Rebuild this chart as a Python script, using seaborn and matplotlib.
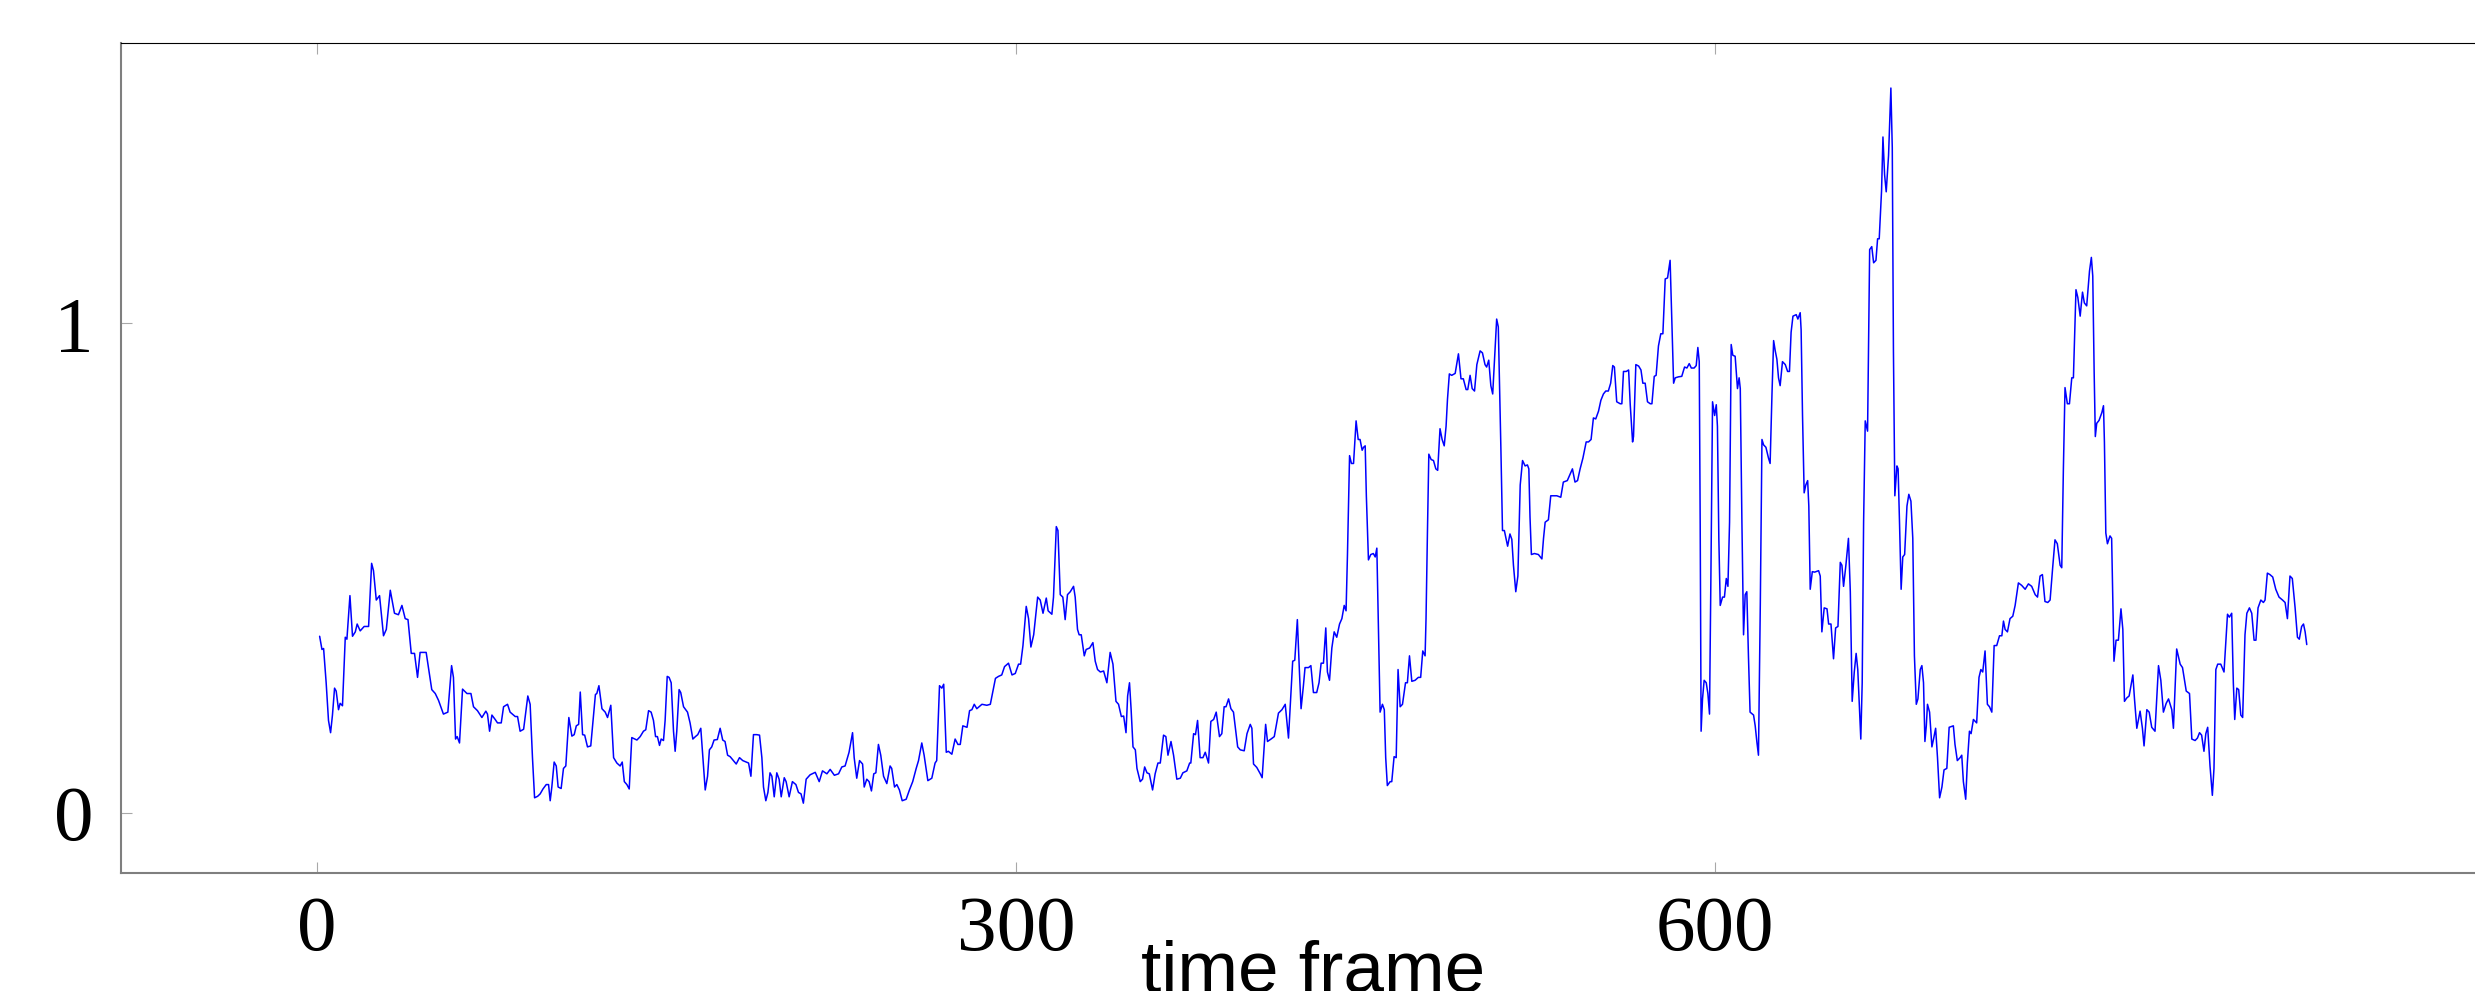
import matplotlib
matplotlib.use("Agg")
import matplotlib.pyplot as plt
import seaborn as sns
import pandas as pd

# ---- data (x = time frame, y = signal value) ----
x_frame = [
    1.3, 2.3, 3.0, 4.1, 5.1, 6.0, 6.8, 7.7, 8.4, 9.4, 10.1, 11.1, 12.3, 13.0, 14.3, 15.4, 16.6, 17.4, 18.7, 20.4,
    22.3, 23.6, 24.4, 25.6, 27.0, 28.7, 29.9, 31.6, 33.4, 35.1, 36.6, 38.0, 39.2, 40.6, 42.0, 43.3, 44.4, 47.0, 49.4, 50.9,
    52.3, 54.4, 56.3, 57.9, 58.7, 59.6, 60.3, 61.3, 62.6, 64.5, 66.2, 67.3, 69.0, 70.9, 72.6, 73.3, 74.2, 75.2, 76.6, 77.6,
    79.2, 80.2, 81.9, 83.0, 85.2, 86.2, 87.3, 88.8, 90.6, 91.6, 92.6, 93.5, 94.8, 95.9, 97.1, 98.5, 99.5, 100.2, 100.9, 101.9,
    102.8, 103.6, 104.9, 105.9, 106.9, 108.2, 109.5, 110.5, 111.4, 112.4, 113.1, 114.1, 115.0, 116.2, 117.6, 118.8, 119.6, 120.2, 121.1, 122.4,
    123.8, 124.8, 126.2, 127.4, 128.8, 130.2, 131.1, 132.0, 133.1, 134.1,
    135.2, 137.4, 138.8, 140.2, 141.2, 142.4, 143.5, 144.5, 145.4, 146.2, 147.1, 147.8, 148.8, 149.5, 150.4, 151.2, 152.1, 153.1, 153.8, 154.5,
    155.5, 156.2, 157.4, 159.1, 160.2, 161.4, 162.5, 163.5, 164.8, 165.7, 166.7, 167.7, 168.5, 169.5, 170.5, 171.9, 173.1, 174.2, 175.2, 176.3,
    177.4, 178.8, 180.0, 181.4, 182.8, 184.3, 185.3, 186.3, 187.4, 188.8, 190.0, 191.0, 191.7, 192.7, 193.6, 194.5, 195.3, 196.3, 197.4, 198.4,
    199.3, 200.6, 201.4, 202.7, 204.1, 205.6, 206.7, 207.8, 208.8, 210.0, 211.7, 213.9, 215.6, 217.0, 218.9, 220.3, 222.1, 223.9, 225.3, 226.7,
    228.4, 229.9, 230.6, 231.7, 232.9, 234.2, 234.9, 236.0, 237.0, 238.0, 239.0, 239.9, 241.0, 242.0, 243.2, 244.6, 246.0, 246.7, 247.9, 248.9,
    250.0, 251.2, 252.9, 254.3, 255.7, 257.2, 258.2, 259.6, 260.6, 262.2, 263.9, 265.3, 266.0, 267.2, 268.2, 269.0, 270.1, 271.0, 272.5, 273.9,
    275.1, 276.1,
    277.2, 279.0, 280.1, 281.1, 282.1, 283.2, 285.4, 287.5, 289.0, 290.1, 291.2, 292.5, 293.9, 295.1, 296.8, 298.3, 299.7, 301.1, 302.0, 303.0,
    304.4, 305.4, 306.4, 307.6, 309.3, 310.4, 311.6, 313.0, 313.8, 315.4, 316.1, 317.3, 318.0, 319.0, 320.1, 321.1, 322.1, 323.3, 324.7, 325.4,
    326.4, 327.1, 328.0, 329.3, 330.1, 331.6, 333.0, 334.0, 335.0, 336.2, 337.6, 339.0, 340.4, 341.6, 342.9, 344.0, 345.2, 346.2, 347.2, 347.9,
    348.7, 349.4, 350.2, 351.2, 351.9, 353.3, 354.3, 355.2, 356.2, 357.2, 358.6, 359.7, 360.9, 361.9, 363.3, 364.3, 365.2, 366.5, 367.6, 369.0,
    370.5, 371.6, 373.3, 374.5, 375.0, 376.2, 377.0, 377.9, 379.0, 380.2, 381.2, 382.6, 383.6, 384.8, 385.9, 387.3, 388.3, 389.3, 390.1, 391.2,
    392.2, 393.3, 395.1, 396.2, 397.9, 399.1, 400.5, 401.2, 401.9, 403.3, 404.8, 405.6, 407.1, 407.9, 409.4, 410.8, 412.6, 414.1, 415.5, 416.9,
    418.7, 419.6, 420.7, 421.6, 422.3, 423.3, 424.0, 425.5, 426.5, 427.6, 429.0, 430.0, 430.9, 431.9, 432.9, 433.6, 434.5, 435.5, 436.5, 437.6,
    438.8, 439.8, 440.8, 441.6, 442.2, 443.1, 443.9, 444.8, 445.9, 446.8, 447.6, 448.5, 449.1, 449.8, 450.3, 451.2, 452.2, 453.3, 454.1, 454.8,
    455.5, 456.2, 457.2, 458.0, 458.6, 459.3, 460.5, 461.2, 462.2, 463.1, 463.9, 464.8, 465.8, 467.1, 467.9, 468.8, 469.8, 471.2, 472.6, 473.6,
    474.5, 475.5, 475.9, 476.5, 477.1, 478.1, 479.1, 480.1, 480.9, 481.9, 482.8, 483.7, 484.5, 485.1, 485.9, 486.9, 488.4, 489.8, 490.9, 491.9,
    493.1, 493.8, 494.8, 495.7, 496.7, 497.7, 499.1, 500.1, 501.2, 501.9, 502.8, 503.7, 504.5, 505.5, 506.2, 506.9, 508.0, 508.7, 509.5, 510.2,
    510.9, 511.9, 512.7, 513.4, 514.4, 515.3, 516.3, 517.3, 518.4, 519.4, 520.0, 520.5, 521.1, 522.4, 524.1, 525.6, 526.3, 527.0, 528.4, 529.4,
    530.6, 532.0, 533.7, 534.8, 536.5, 537.7, 538.7, 539.8, 540.9, 542.0, 543.2, 544.6, 545.6, 546.7, 547.7, 548.7, 549.9, 550.9, 552.0, 553.0,
    554.1, 555.1, 556.0, 556.7, 557.7, 559.2,
    559.9, 560.6, 561.8, 562.8, 563.5, 564.5, 564.9, 565.9, 567.1, 568.1, 568.9, 569.9, 570.9, 572.1, 572.8, 573.8, 574.6, 575.6, 576.6, 577.5,
    578.5, 579.5, 580.6, 581.4, 582.1, 582.8, 584.2, 585.6, 586.8, 587.8, 588.8, 589.7, 590.9, 591.8, 592.5, 593.1, 593.5, 593.9, 594.5, 595.2,
    596.1, 596.8, 597.5, 598.1, 598.8, 599.7, 600.4, 600.9, 601.5, 602.1, 603.1, 603.9, 604.7, 605.4, 606.1, 606.8, 607.5, 608.5, 609.5, 610.2,
    610.7, 611.4, 612.1, 612.8, 613.5, 614.2, 614.9, 616.4, 617.1, 617.8, 618.5, 619.3, 620.0, 620.7, 621.7, 622.8, 623.5, 624.3, 625.0, 625.7,
    626.4, 627.1, 627.8, 628.8, 630.0, 631.0, 631.8, 632.5, 633.3, 634.7, 635.4, 636.4, 636.8, 637.4, 638.1, 638.8, 639.6, 640.1, 640.7, 641.6,
    642.6, 644.3, 645.0, 645.7, 646.7, 647.9, 648.6, 649.6, 650.7, 651.6, 652.6, 653.6, 654.3, 655.0, 656.0, 657.1, 657.9, 658.7, 659.6, 660.4,
    661.1, 662.4, 663.0, 663.6, 664.3, 665.3, 666.2, 667.1, 667.9, 668.9, 669.6, 670.3, 671.3, 671.9, 672.6, 673.3, 674.3, 675.3, 675.9, 676.4,
    677.0, 677.9, 678.4, 679.0, 679.7, 680.4, 681.2, 682.2, 683.0, 683.9, 684.7, 685.4, 686.2, 686.9, 687.9, 688.6, 689.3, 689.9, 690.5, 691.0,
    691.9, 692.9, 693.6, 694.5, 695.3, 696.2, 697.2, 698.1, 699.3, 700.3,
    702.1, 702.8, 703.8, 705.0, 705.7, 706.4, 707.4, 708.1, 709.0, 709.7, 710.7, 712.1, 713.1, 713.9, 714.7, 715.7, 716.7, 717.6, 718.6, 719.6,
    720.7, 721.9, 722.9, 723.6, 724.3, 725.3, 726.4, 727.6, 728.6, 730.0, 731.4, 732.9, 734.3, 735.7, 737.2, 738.2, 739.3, 740.3, 741.4, 742.6,
    743.6, 744.7, 745.7, 746.7, 747.9, 748.6, 749.3, 750.0, 751.0, 751.9, 752.9, 753.6, 754.7, 755.5, 756.5, 757.5, 758.3, 759.3, 760.5, 761.3,
    761.9, 762.5, 763.0, 763.6, 764.6, 765.8, 766.5, 766.9, 767.5, 768.2, 769.3, 770.0, 770.5, 771.0, 771.9, 772.9, 774.0, 774.8, 775.5, 776.5,
    777.5, 779.1, 779.8, 780.8, 782.2, 783.2, 783.9, 785.1, 786.1, 787.2, 788.6, 790.1, 791.1, 792.2, 793.4, 794.4, 795.8, 796.5, 797.9, 799.4,
    800.4, 802.0, 803.4, 804.4, 805.8, 806.8, 807.7, 808.6, 809.6, 810.4, 811.2, 812.2, 813.2, 813.9, 814.7, 815.5, 816.8, 818.2, 819.7, 820.5,
    821.5, 822.2, 822.8, 823.7, 824.5, 825.4, 826.2, 827.2, 828.0, 829.1, 830.1, 831.1, 831.9, 832.8, 834.0, 835.1, 835.8, 836.8, 837.9, 839.1,
    840.4, 841.8, 843.3, 844.4, 845.4, 846.5, 847.5, 848.7, 849.7, 850.5, 851.5, 852.3, 853.0, 853.7,
]

signal = [
    0.361, 0.334, 0.336, 0.266, 0.189, 0.164, 0.200, 0.255, 0.249, 0.211, 0.224, 0.219, 0.359, 0.355, 0.444, 0.361, 0.370, 0.386, 0.372, 0.381,
    0.381, 0.510, 0.495, 0.435, 0.444, 0.362, 0.375, 0.455, 0.408, 0.405, 0.424, 0.397, 0.395, 0.326, 0.326, 0.277, 0.328, 0.328, 0.252, 0.244,
    0.230, 0.202, 0.206, 0.301, 0.277, 0.151, 0.156, 0.143, 0.253, 0.244, 0.244, 0.217, 0.209, 0.195, 0.208, 0.202, 0.167, 0.200, 0.191, 0.184,
    0.184, 0.217, 0.222, 0.206, 0.197, 0.197, 0.167, 0.171, 0.239, 0.222, 0.113, 0.031, 0.034, 0.039, 0.049, 0.058, 0.058, 0.025, 0.053, 0.104,
    0.096, 0.053, 0.050, 0.091, 0.096, 0.195, 0.157, 0.160, 0.178, 0.181, 0.247, 0.160, 0.159, 0.135, 0.137, 0.200, 0.242, 0.244, 0.260, 0.213,
    0.206, 0.195, 0.220, 0.113, 0.102, 0.096, 0.104, 0.064, 0.058, 0.049,
    0.154, 0.149, 0.156, 0.167, 0.170, 0.209, 0.206, 0.189, 0.156, 0.156, 0.138, 0.151, 0.148, 0.189, 0.279, 0.277, 0.266, 0.167, 0.126, 0.167,
    0.252, 0.246, 0.217, 0.206, 0.184, 0.151, 0.156, 0.160, 0.173, 0.113, 0.047, 0.075, 0.129, 0.135, 0.149, 0.150, 0.173, 0.149, 0.146, 0.118,
    0.115, 0.107, 0.100, 0.113, 0.107, 0.104, 0.102, 0.075, 0.160, 0.160, 0.159, 0.113, 0.053, 0.025, 0.042, 0.082, 0.075, 0.033, 0.082, 0.069,
    0.033, 0.072, 0.064, 0.033, 0.064, 0.058, 0.042, 0.039, 0.020, 0.069, 0.078, 0.083, 0.064, 0.086, 0.080, 0.089, 0.077, 0.080, 0.094, 0.096,
    0.124, 0.164, 0.113, 0.071, 0.107, 0.100, 0.053, 0.069, 0.064, 0.045, 0.080, 0.082, 0.140, 0.118, 0.075, 0.060, 0.096, 0.091, 0.053, 0.058,
    0.047, 0.025, 0.028, 0.047, 0.064, 0.091, 0.107, 0.143, 0.118, 0.066, 0.071, 0.102, 0.107, 0.260, 0.255, 0.263, 0.124, 0.126, 0.120, 0.151,
    0.140, 0.140,
    0.178, 0.175, 0.209, 0.211, 0.222, 0.213, 0.222, 0.220, 0.222, 0.249, 0.275, 0.279, 0.282, 0.299, 0.306, 0.282, 0.285, 0.304, 0.304, 0.342,
    0.422, 0.397, 0.339, 0.364, 0.441, 0.435, 0.408, 0.439, 0.413, 0.406, 0.441, 0.585, 0.577, 0.446, 0.441, 0.395, 0.446, 0.452, 0.463, 0.441,
    0.375, 0.364, 0.364, 0.321, 0.334, 0.337, 0.348, 0.310, 0.293, 0.288, 0.290, 0.266, 0.328, 0.304, 0.228, 0.222, 0.197, 0.198, 0.164, 0.239,
    0.266, 0.211, 0.135, 0.129, 0.091, 0.064, 0.069, 0.094, 0.082, 0.080, 0.047, 0.080, 0.102, 0.102, 0.159, 0.156, 0.118, 0.146, 0.118, 0.069,
    0.071, 0.082, 0.086, 0.102, 0.102, 0.162, 0.160, 0.189, 0.113, 0.113, 0.124, 0.102, 0.187, 0.191, 0.206, 0.156, 0.162, 0.217, 0.217, 0.233,
    0.213, 0.206, 0.135, 0.129, 0.127, 0.162, 0.181, 0.173, 0.100, 0.093, 0.080, 0.072, 0.181, 0.146, 0.151, 0.156, 0.204, 0.211, 0.222, 0.153,
    0.310, 0.312, 0.395, 0.288, 0.213, 0.260, 0.297, 0.297, 0.301, 0.246, 0.246, 0.266, 0.306, 0.306, 0.378, 0.288, 0.271, 0.337, 0.370, 0.359,
    0.386, 0.397, 0.424, 0.413, 0.528, 0.730, 0.714, 0.714, 0.801, 0.763, 0.763, 0.741, 0.747, 0.750, 0.648, 0.517, 0.528, 0.530, 0.523, 0.541,
    0.375, 0.206, 0.222, 0.211, 0.113, 0.056, 0.064, 0.064, 0.115, 0.113, 0.293, 0.217, 0.222, 0.266, 0.266, 0.321, 0.269, 0.271, 0.277, 0.277,
    0.331, 0.321, 0.397, 0.572, 0.733, 0.722, 0.720, 0.703, 0.700, 0.785, 0.763, 0.750, 0.790, 0.845, 0.897, 0.894, 0.898, 0.938, 0.887, 0.887,
    0.865, 0.865, 0.894, 0.867, 0.862, 0.916, 0.944, 0.940, 0.916, 0.911, 0.925, 0.873, 0.856, 0.944, 1.009, 0.993, 0.747, 0.577, 0.577, 0.561,
    0.545, 0.570, 0.559, 0.506, 0.452, 0.484, 0.670, 0.720, 0.709, 0.711, 0.703, 0.605, 0.528, 0.530, 0.528, 0.519, 0.561, 0.594, 0.599, 0.648,
    0.648, 0.648, 0.645, 0.676, 0.679, 0.692, 0.703, 0.676, 0.679, 0.703, 0.725, 0.758, 0.758, 0.763, 0.807, 0.805, 0.821, 0.843, 0.856, 0.862,
    0.862, 0.878, 0.914, 0.911, 0.840, 0.836,
    0.836, 0.902, 0.902, 0.905, 0.834, 0.758, 0.769, 0.916, 0.913, 0.905, 0.878, 0.878, 0.840, 0.836, 0.836, 0.892, 0.894, 0.954, 0.979, 0.979,
    1.091, 1.093, 1.129, 0.998, 0.878, 0.889, 0.891, 0.892, 0.911, 0.909, 0.918, 0.909, 0.909, 0.914, 0.951, 0.922, 0.594, 0.167, 0.233, 0.271,
    0.266, 0.244, 0.202, 0.484, 0.840, 0.812, 0.834, 0.790, 0.561, 0.424, 0.441, 0.441, 0.479, 0.463, 0.594, 0.957, 0.935, 0.933, 0.867, 0.889,
    0.867, 0.594, 0.364, 0.446, 0.452, 0.321, 0.206, 0.200, 0.178, 0.146, 0.118, 0.430, 0.763, 0.752, 0.747, 0.725, 0.714, 0.856, 0.965, 0.944,
    0.927, 0.889, 0.873, 0.922, 0.916, 0.902, 0.902, 0.982, 1.015, 1.018, 1.009, 1.022, 0.987, 0.812, 0.654, 0.670, 0.679, 0.627, 0.457, 0.493,
    0.492, 0.495, 0.484, 0.370, 0.419, 0.417, 0.386, 0.386, 0.315, 0.378, 0.381, 0.512, 0.506, 0.463, 0.506, 0.561, 0.452, 0.228, 0.288, 0.326,
    0.293, 0.151, 0.266, 0.594, 0.801, 0.780, 1.151, 1.157, 1.124, 1.129, 1.173, 1.173, 1.271, 1.381, 1.304, 1.269, 1.343, 1.481, 1.359, 0.944,
    0.648, 0.709, 0.703, 0.594, 0.457, 0.523, 0.528, 0.627, 0.651, 0.637, 0.561, 0.321, 0.222, 0.233, 0.293, 0.301, 0.266, 0.146, 0.178, 0.222,
    0.206, 0.135, 0.151, 0.173, 0.113, 0.031, 0.053, 0.088, 0.091, 0.175,
    0.178, 0.140, 0.107, 0.113, 0.118, 0.064, 0.028, 0.102, 0.167, 0.162, 0.191, 0.184, 0.277, 0.293, 0.288, 0.331, 0.222, 0.217, 0.206, 0.342,
    0.342, 0.362, 0.362, 0.392, 0.375, 0.370, 0.397, 0.402, 0.424, 0.470, 0.465, 0.457, 0.468, 0.463, 0.446, 0.441, 0.484, 0.487, 0.432, 0.430,
    0.435, 0.501, 0.558, 0.550, 0.506, 0.501, 0.703, 0.869, 0.836, 0.836, 0.889, 0.889, 1.069, 1.053, 1.015, 1.064, 1.042, 1.036, 1.107, 1.135,
    1.097, 0.900, 0.769, 0.796, 0.802, 0.818, 0.832, 0.758, 0.572, 0.550, 0.566, 0.561, 0.430, 0.310, 0.353, 0.353, 0.417, 0.375, 0.228, 0.235,
    0.239, 0.282, 0.233, 0.173, 0.208, 0.173, 0.137, 0.211, 0.206, 0.175, 0.167, 0.301, 0.271, 0.206, 0.224, 0.233, 0.211, 0.173, 0.335, 0.304,
    0.297, 0.249, 0.244, 0.151, 0.148, 0.153, 0.164, 0.159, 0.126, 0.162, 0.175, 0.096, 0.036, 0.091, 0.293, 0.304, 0.304, 0.288, 0.406, 0.400,
    0.408, 0.266, 0.191, 0.255, 0.252, 0.200, 0.195, 0.364, 0.408, 0.419, 0.408, 0.353, 0.353, 0.419, 0.435, 0.430, 0.435, 0.490, 0.487, 0.482,
    0.457, 0.441, 0.435, 0.430, 0.397, 0.484, 0.479, 0.419, 0.359, 0.355, 0.381, 0.386, 0.370, 0.344,
]

x_ticks = [0, 300, 600]
x_tick_labels = ["0", "300", "600"]
y_ticks = [0, 1]
y_tick_labels = ["0", "1"]
x_label = "time frame"

df = pd.DataFrame({"time frame": x_frame, "value": signal})

sns.set_style("white")
plt.rcParams["font.family"] = ["Liberation Serif", "DejaVu Serif"]
plt.rcParams["text.color"] = "black"
plt.rcParams["axes.labelcolor"] = "black"

fig = plt.figure(figsize=(24.75, 9.91), dpi=100)
ax = fig.add_axes([0.0488, 0.1191, 0.9631, 0.838])

sns.lineplot(data=df, x="time frame", y="value", ax=ax, color="#0000ff",
             linewidth=1.1, estimator=None, sort=False)

ax.set_xlim(-84.0, 938.5)
ax.set_ylim(-0.1226, 1.574)

ax.set_xticks(x_ticks)
ax.set_xticklabels(x_tick_labels)
ax.set_yticks(y_ticks)
ax.set_yticklabels(y_tick_labels)

ax.tick_params(axis="both", direction="in", length=8, width=0.8, color="#a8a8a8",
               labelsize=57, labelcolor="black")
ax.tick_params(axis="x", top=True, bottom=True, pad=16.5)
ax.tick_params(axis="y", left=True, right=False, pad=19.5)

for side in ("left", "bottom"):
    ax.spines[side].set_color("#7f7f7f")
    ax.spines[side].set_linewidth(1.5)
ax.spines["top"].set_color("#000000")
ax.spines["top"].set_linewidth(0.8)
ax.spines["right"].set_visible(False)

ax.set_ylabel("")
ax.set_xlabel(x_label, fontsize=52.5, family=["Liberation Sans", "DejaVu Sans"],
              va="baseline", color="black")
ax.xaxis.set_label_coords(0.5, -0.1433)

fig.savefig("out.png", dpi=100, facecolor="white")
